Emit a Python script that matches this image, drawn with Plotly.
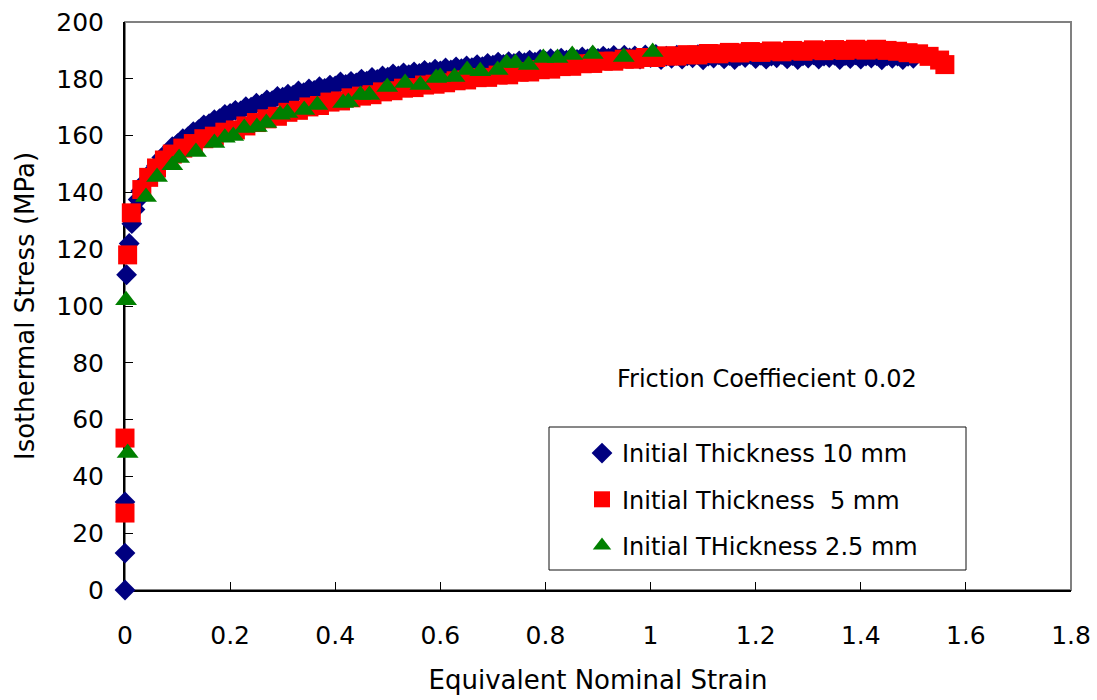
import plotly.graph_objects as go

# ---------------- data ----------------
blue_x = [0.0, 0.0, 0.0, 0.003, 0.008, 0.013, 0.019, 0.025,
          0.03, 0.04, 0.05, 0.06, 0.07, 0.08, 0.09, 0.10, 0.11, 0.12, 0.13, 0.14, 0.15, 0.16, 0.17, 0.18, 0.19, 0.20,
          0.21, 0.22, 0.23, 0.24, 0.25, 0.26, 0.27, 0.28, 0.29, 0.30, 0.31, 0.32, 0.33, 0.34, 0.35, 0.36, 0.37, 0.38,
          0.39, 0.40, 0.41, 0.42, 0.43, 0.44, 0.45, 0.46, 0.47, 0.48, 0.49, 0.50, 0.51, 0.52, 0.53, 0.54, 0.55, 0.56,
          0.57, 0.58, 0.59, 0.60, 0.61, 0.62, 0.63, 0.64, 0.65, 0.66, 0.67, 0.68, 0.69, 0.70, 0.71, 0.72, 0.73, 0.74,
          0.75, 0.76, 0.77, 0.78, 0.79, 0.80, 0.81, 0.82, 0.83, 0.84, 0.85, 0.86, 0.87, 0.88, 0.89, 0.90, 0.91, 0.92,
          0.93, 0.94, 0.95, 0.96, 0.97, 0.98, 0.99, 1.00, 1.01, 1.02, 1.03, 1.04, 1.05, 1.06, 1.07, 1.08, 1.09, 1.10,
          1.11, 1.12, 1.13, 1.14, 1.15, 1.16, 1.17, 1.18, 1.19, 1.20, 1.21, 1.22, 1.23, 1.24, 1.25, 1.26, 1.27, 1.28,
          1.29, 1.30, 1.31, 1.32, 1.33, 1.34, 1.35, 1.36, 1.37, 1.38, 1.39, 1.40, 1.41, 1.42, 1.43, 1.44, 1.45, 1.46,
          1.47, 1.48, 1.49, 1.50]
blue_y = [0.0, 13.0, 31.0, 111.0, 122.0, 129.0, 134.0, 137.5,
          140.5, 144.0, 147.2, 149.5, 152.3, 153.8, 156.1, 157.2, 158.9, 159.6, 161.4, 162.1, 163.8, 164.2, 165.6, 166.0, 167.5, 167.8,
          168.9, 168.7, 170.2, 170.0, 171.4, 171.1, 172.6, 172.3, 173.8, 173.5, 174.6, 174.2, 175.7, 175.1, 176.4, 175.9, 177.2, 176.6,
          177.8, 177.5, 178.9, 178.0, 179.1, 178.6, 179.9, 179.2, 180.5, 179.8, 181.0, 180.6, 181.7, 181.0, 182.1, 181.5, 182.4, 181.9,
          183.0, 182.3, 183.4, 182.8, 183.8, 183.1, 184.2, 183.6, 184.5, 183.9, 185.0, 184.3, 185.4, 184.8, 185.9, 185.1, 186.0, 185.4,
          186.3, 185.7, 186.6, 185.9, 186.8, 186.2, 187.1, 186.4, 187.3, 186.6, 187.5, 186.8, 187.7, 187.0, 188.1, 187.2, 188.0, 187.3,
          188.2, 187.0, 188.3, 187.4, 188.1, 186.9, 188.4, 187.5, 188.6, 186.8, 188.0, 187.2, 188.3, 186.9, 188.1, 187.4, 188.5, 186.7,
          188.0, 187.3, 188.4, 187.0, 188.2, 186.8, 188.1, 187.5, 188.6, 187.1, 188.3, 186.9, 188.0, 187.4, 188.5, 187.0, 188.2, 186.8,
          188.1, 187.3, 188.4, 186.9, 188.0, 187.5, 188.3, 186.8, 188.2, 187.1, 188.4, 186.9, 188.0, 187.3, 188.2, 186.7, 188.1, 187.2,
          188.0, 186.8, 187.9, 187.2]

red_x = [0.0, 0.0, 0.005, 0.012, 0.032, 0.045, 0.06, 0.075, 0.09,
         0.11, 0.13, 0.15, 0.17, 0.19, 0.21, 0.23, 0.25, 0.27, 0.29, 0.31, 0.33, 0.35, 0.37, 0.39, 0.41, 0.43,
         0.45, 0.47, 0.49, 0.51, 0.53, 0.55, 0.57, 0.59, 0.61, 0.63, 0.65, 0.67, 0.69, 0.71, 0.73, 0.75, 0.77,
         0.79, 0.81, 0.83, 0.85, 0.87, 0.89, 0.91, 0.93, 0.95, 0.97, 0.99, 1.01, 1.03, 1.05, 1.07, 1.09, 1.11,
         1.13, 1.15, 1.17, 1.19, 1.21, 1.23, 1.25, 1.27, 1.29, 1.31, 1.33, 1.35, 1.37, 1.39, 1.41, 1.43, 1.45,
         1.47, 1.49, 1.51, 1.53, 1.55, 1.56]
red_y = [27.1, 53.5, 118.0, 132.8, 141.0, 145.3, 148.6, 151.4, 153.5,
         155.6, 157.2, 158.9, 159.8, 161.2, 162.0, 163.4, 164.6, 165.9, 166.8, 168.2, 168.9, 170.1, 170.6, 171.8, 172.2, 173.3,
         173.9, 174.4, 175.4, 175.8, 176.7, 176.9, 177.8, 178.1, 178.6, 179.3, 179.6, 180.4, 180.5, 181.3, 181.4, 182.3, 182.4,
         183.2, 183.4, 184.3, 184.4, 185.3, 185.4, 186.2, 186.2, 186.9, 186.9, 187.5, 187.5, 188.1, 188.0, 188.5, 188.4, 188.9,
         188.8, 189.3, 189.1, 189.6, 189.3, 189.8, 189.5, 190.0, 189.7, 190.2, 189.9, 190.3, 190.0, 190.4, 190.1, 190.4, 190.0,
         189.7, 189.2, 188.8, 187.9, 186.6, 185.0]

green_x = [0.005, 0.002, 0.040, 0.061, 0.090, 0.103, 0.135, 0.170, 0.190, 0.206, 0.227, 0.251, 0.269, 0.295, 0.309,
           0.341, 0.366, 0.415, 0.425, 0.448, 0.465, 0.499, 0.533, 0.562, 0.592, 0.600, 0.627, 0.651, 0.676, 0.709,
           0.726, 0.743, 0.768, 0.796, 0.823, 0.851, 0.890, 0.949, 1.004]
green_y = [48.2, 102.0, 138.4, 145.4, 149.6, 152.1, 154.2, 157.4, 159.2, 159.9, 162.7, 163.0, 164.4, 167.3, 168.0,
           169.0, 170.8, 171.5, 171.8, 174.3, 174.3, 177.1, 178.5, 177.8, 180.3, 180.6, 180.6, 183.1, 182.7, 183.1,
           185.6, 185.6, 184.9, 187.3, 187.3, 188.4, 188.7, 187.7, 189.4]

series_names = ["Initial Thickness 10 mm", "Initial Thickness  5 mm", "Initial THickness 2.5 mm"]
x_ticks = [0, 0.2, 0.4, 0.6, 0.8, 1, 1.2, 1.4, 1.6, 1.8]
x_tick_text = ["0", "0.2", "0.4", "0.6", "0.8", "1", "1.2", "1.4", "1.6", "1.8"]
y_ticks = [0, 20, 40, 60, 80, 100, 120, 140, 160, 180, 200]

FONT = "DejaVu Sans"

fig = go.Figure()
fig.add_trace(go.Scatter(x=blue_x, y=blue_y, mode="markers", name=series_names[0], legendgroup="a",
                         cliponaxis=False,
                         marker=dict(symbol="diamond", size=16, color="#000080", line=dict(width=0))))
fig.add_trace(go.Scatter(x=red_x, y=red_y, mode="markers", name=series_names[1], legendgroup="b",
                         cliponaxis=False,
                         marker=dict(symbol="square", size=19, color="#FF0000", line=dict(width=0))))
fig.add_trace(go.Scatter(x=green_x, y=green_y, mode="markers", name=series_names[2], legendgroup="c",
                         cliponaxis=False,
                         marker=dict(symbol="triangle-up", size=19, color="#008000", line=dict(width=0))))

W, H = 1097, 700
L, R, T, B = 125, 26, 22, 110
pw, ph = W - L - R, H - T - B


def px2paper(px, py):
    return (px - L) / pw, (H - B - py) / ph


# gray frame round plot area
fig.add_shape(type="rect", xref="paper", yref="paper", x0=0, x1=1, y0=0, y1=1,
              line=dict(color="#808080", width=2), layer="below")

# legend box
bx0, by0 = px2paper(549, 570)
bx1, by1 = px2paper(966, 427)
fig.add_shape(type="rect", xref="paper", yref="paper", x0=bx0, x1=bx1, y0=by0, y1=by1,
              line=dict(color="#101010", width=1), fillcolor="white", layer="below")

lx, ly = px2paper(582, 431)
ax, ay = px2paper(767, 379)
fig.add_annotation(x=ax, y=ay, xref="paper", yref="paper", text="Friction Coeffiecient 0.02",
                   showarrow=False, xanchor="center", yanchor="middle",
                   font=dict(family=FONT, size=24, color="black"))

fig.update_layout(
    width=W, height=H,
    margin=dict(l=L, r=R, t=T, b=B, autoexpand=False),
    paper_bgcolor="white", plot_bgcolor="white",
    font=dict(family=FONT, color="black"),
    showlegend=True,
    legend=dict(x=lx, y=ly, xanchor="left", yanchor="top", bgcolor="rgba(0,0,0,0)",
                borderwidth=0, font=dict(family=FONT, size=24, color="black"),
                tracegroupgap=12, itemsizing="trace"),
    xaxis=dict(range=[0, 1.8], tickmode="array", tickvals=x_ticks, ticktext=x_tick_text,
               showgrid=False, zeroline=False, showline=True, linecolor="black", linewidth=2,
               ticks="inside", ticklen=8, tickcolor="black", tickwidth=1,
               tickfont=dict(family=FONT, size=25, color="black"), ticklabelstandoff=22,
               title=dict(text="Equivalent Nominal Strain", font=dict(family=FONT, size=26, color="black"),
                          standoff=22),
               layer="below traces", automargin=False),
    yaxis=dict(range=[0, 200], tickmode="array", tickvals=y_ticks,
               showgrid=False, zeroline=False, showline=True, linecolor="black", linewidth=2,
               ticks="inside", ticklen=8, tickcolor="black", tickwidth=1,
               tickfont=dict(family=FONT, size=25, color="black"), ticklabelstandoff=14,
               title=dict(text="Isothermal Stress (MPa)", font=dict(family=FONT, size=26, color="black"),
                          standoff=14),
               layer="below traces", automargin=False),
)

fig.write_html("out.html")
